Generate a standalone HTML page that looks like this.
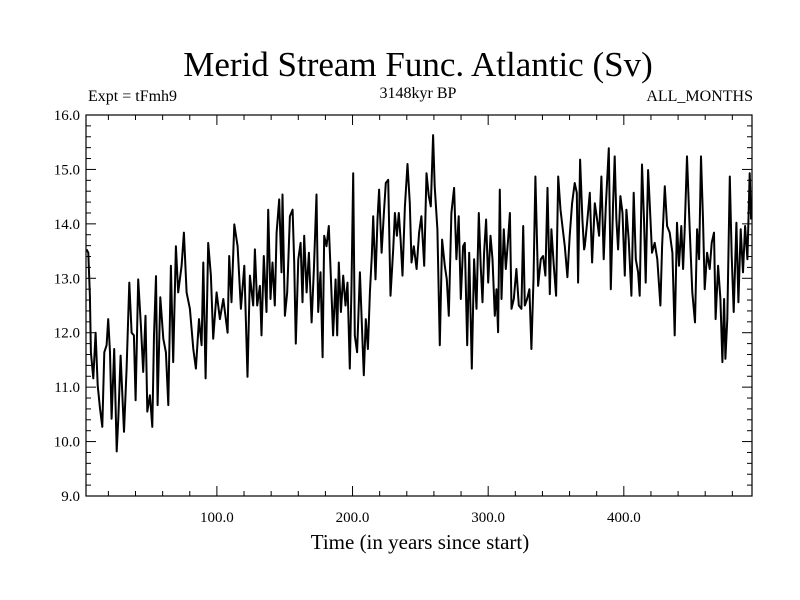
<!DOCTYPE html>
<html><head><meta charset="utf-8"><style>
body{margin:0;background:#fff;}
svg{display:block;font-family:"Liberation Serif",serif;}
</style></head><body>
<svg id="chart" width="800" height="600">
<text x="418" y="76" font-size="35" text-anchor="middle">Merid Stream Func. Atlantic (Sv)</text>
<text x="88" y="101" font-size="16">Expt = tFmh9</text>
<text x="418" y="98" font-size="16" text-anchor="middle">3148kyr BP</text>
<text x="753" y="101" font-size="16" text-anchor="end">ALL_MONTHS</text>
<text x="420" y="549" font-size="21" text-anchor="middle">Time (in years since start)</text>
<g id="ticks"></g>
<path id="series" fill="none" stroke="#000" stroke-width="2" stroke-linejoin="round"></path>
<rect x="86" y="115" width="666" height="381" fill="none" stroke="#000" stroke-width="1.2"></rect>
</svg>
<script>
const years=[3.9,5.2,6.4,7.1,8.9,10.6,12.1,13.8,15.5,17.0,18.7,19.9,21.2,22.4,24.3,26.1,27.3,29.0,31.5,33.4,35.4,37.1,38.8,40.1,42.0,44.0,45.7,47.4,48.7,50.6,52.4,53.6,55.1,56.3,58.3,60.5,62.4,64.2,66.1,67.8,69.8,71.5,74.0,75.7,77.7,80.1,82.6,84.5,86.8,88.7,90.0,91.7,93.6,95.6,97.3,99.8,102.2,104.7,107.9,109.1,110.8,112.8,115.3,117.7,120.2,122.6,124.3,126.8,
128.0,129.7,131.7,132.9,134.6,136.6,137.8,139.5,141.0,142.7,144.0,145.9,147.6,148.4,150.1,151.8,153.8,155.8,157.0,158.2,160.0,161.7,163.1,164.4,166.1,167.8,169.8,171.5,173.4,174.7,176.4,177.9,179.1,180.8,182.5,184.0,185.7,187.5,188.7,189.9,191.4,193.1,194.8,196.3,198.0,199.2,200.5,201.7,203.4,205.4,206.9,208.3,209.8,211.3,212.8,214.2,215.2,216.9,218.4,219.6,221.4,223.1,224.5,226.3,228.0,230.0,231.2,232.7,234.1,235.4,236.8,238.6,240.5,242.2,243.5,245.2,247.2,249.1,
250.8,252.8,254.5,256.2,257.7,259.4,260.6,262.6,264.3,266.0,268.0,269.5,271.0,272.9,274.9,276.6,278.3,279.8,281.5,282.8,284.5,286.0,287.9,289.6,291.4,293.1,294.5,295.8,297.0,298.5,300.0,301.7,303.2,304.9,306.1,307.3,308.6,309.8,311.5,313.0,314.7,316.0,317.2,318.9,320.8,322.6,324.5,325.8,327.0,328.7,330.4,331.9,333.4,334.8,336.8,338.8,340.5,342.2,343.7,345.4,346.6,348.4,350.1,351.6,353.3,354.7,356.5,358.4,360.1,361.9,363.8,365.3,366.3,367.8,369.5,370.7,
371.2,372.9,374.9,376.6,378.6,380.3,381.8,383.5,385.2,386.7,388.9,390.4,392.1,393.3,394.5,395.8,397.5,399.0,400.7,401.9,403.6,405.6,407.3,408.8,410.5,411.7,413.4,414.9,416.1,417.9,419.1,420.8,422.8,424.7,427.0,428.2,430.2,431.9,433.8,435.8,437.5,439.2,440.7,442.4,443.7,444.9,446.6,448.6,450.5,452.5,454.0,455.5,456.9,458.4,459.6,461.4,463.3,464.8,466.5,467.7,469.5,471.2,472.7,473.9,474.9,476.3,478.1,479.5,481.0,483.0,484.5,486.2,487.9,489.4,491.1,492.8,493.8];
const values=[13.53,13.47,12.68,11.64,11.16,12.0,11.03,10.61,10.27,11.64,11.77,12.25,11.64,10.42,11.7,9.82,10.42,11.58,10.18,11.34,12.92,12.0,11.95,10.76,12.98,12.13,11.28,12.31,10.55,10.85,10.27,11.95,13.04,10.67,12.65,11.89,11.64,10.67,13.23,11.46,13.59,12.74,13.23,13.84,12.74,12.44,11.7,11.34,12.25,11.77,13.29,11.16,13.65,13.05,11.89,12.74,12.25,12.62,12.0,13.41,12.56,13.99,13.59,12.44,13.23,11.19,13.05,12.5,
13.53,12.5,12.86,11.95,13.41,12.38,14.26,12.62,13.29,12.5,13.84,14.45,13.11,14.54,12.31,12.74,14.14,14.26,13.29,11.8,13.35,13.65,12.56,13.78,12.74,13.47,12.19,13.17,14.54,12.38,13.11,11.55,13.78,13.59,13.96,13.05,11.95,12.98,11.95,13.29,12.38,13.05,12.5,12.92,11.34,12.86,14.93,11.95,11.64,13.11,12.13,11.22,12.25,11.7,12.74,13.41,14.14,12.98,14.08,14.63,13.47,14.2,14.75,14.81,12.68,13.53,14.2,13.78,14.2,13.71,13.05,14.32,15.1,14.38,13.29,13.59,13.17,13.84,
14.14,13.23,14.93,14.51,14.32,15.63,14.69,13.9,11.77,13.71,13.23,12.98,12.31,14.2,14.66,13.35,14.14,12.62,13.59,13.65,11.77,13.47,11.34,13.35,12.44,14.2,13.23,12.56,13.47,14.08,12.92,13.78,13.35,12.31,12.8,12.01,14.63,12.62,13.9,13.17,13.71,14.2,12.44,12.62,13.17,12.5,12.44,13.96,12.5,12.62,12.8,11.7,12.98,14.87,12.86,13.35,13.41,13.05,14.66,12.71,13.9,13.23,12.68,14.87,14.26,13.96,13.59,13.02,13.78,14.38,14.75,14.57,12.92,15.18,14.08,13.53,
13.59,14.02,14.57,13.29,14.38,14.08,13.78,14.87,13.35,14.32,15.39,12.8,14.38,15.24,14.08,13.53,14.51,14.2,13.05,14.26,13.71,12.68,14.57,13.35,13.11,12.68,15.09,14.08,12.92,14.99,14.38,13.47,13.65,13.35,12.5,13.59,14.69,13.96,13.84,13.47,11.95,14.02,13.23,13.96,13.17,13.9,15.24,13.9,12.74,12.19,13.9,13.35,15.24,14.08,12.8,13.47,13.17,13.65,13.84,12.25,13.23,12.62,11.46,12.62,11.52,12.25,14.87,13.41,12.38,14.02,12.56,13.9,13.11,13.96,13.35,14.93,14.08];
const yTicks=[9,10,11,12,13,14,15,16];
const yTickLabels=["9.0","10.0","11.0","12.0","13.0","14.0","15.0","16.0"];
const xTicks=[100,200,300,400];
const xTickLabels=["100.0","200.0","300.0","400.0"];
const L=86,R=752,T=115,B=496,X0=3.5,X1=494.5,Y0=9,Y1=16;
const sx=v=>L+(v-X0)/(X1-X0)*(R-L);
const sy=v=>B-(v-Y0)/(Y1-Y0)*(B-T);
let d='';
for(let i=0;i<values.length;i++){d+=(i?'L':'M')+sx(years[i]).toFixed(1)+','+sy(values[i]).toFixed(1);}
document.getElementById('series').setAttribute('d',d);
const g=document.getElementById('ticks');
const NS='http://www.w3.org/2000/svg';
function line(x1,y1,x2,y2){const l=document.createElementNS(NS,'line');l.setAttribute('x1',x1);l.setAttribute('y1',y1);l.setAttribute('x2',x2);l.setAttribute('y2',y2);l.setAttribute('stroke','#000');l.setAttribute('stroke-width','1');


g.appendChild(l);}
for(let v=Y0;v<=Y1+1e-6;v+=0.2){const y=sy(v);const major=Math.abs(v-Math.round(v))<1e-6;const len=major?10:5;line(L,y,L+len,y);line(R,y,R-len,y);}
for(let v=20;v<X1;v+=20){const x=sx(v);const major=v%100===0;const len=major?10:5;line(x,B,x,B-len);line(x,T,x,T+len);}
yTicks.forEach((v,i)=>{const t=document.createElementNS(NS,'text');t.setAttribute('x',L-6);t.setAttribute('y',sy(v)+5);t.setAttribute('text-anchor','end');t.setAttribute('font-size','15');t.textContent=yTickLabels[i];


g.appendChild(t);});
xTicks.forEach((v,i)=>{const t=document.createElementNS(NS,'text');t.setAttribute('x',sx(v));t.setAttribute('y',B+26);t.setAttribute('text-anchor','middle');t.setAttribute('font-size','15');t.textContent=xTickLabels[i];


g.appendChild(t);});
</script>
</body></html>
